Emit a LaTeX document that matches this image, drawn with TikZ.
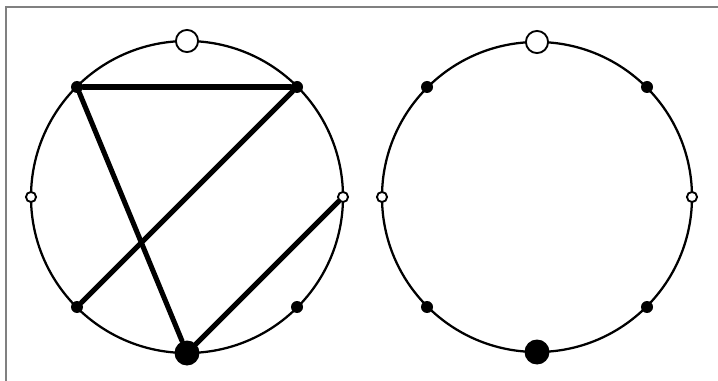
\documentclass[tikz,border=0pt]{standalone}
\usetikzlibrary{positioning}
\begin{document}
\begin{tikzpicture}[x=0.75pt, y=-0.75pt,
  ring/.style={line width=1.7pt},
  chord/.style={line width=3.8pt, line cap=round},
  dot/.style={circle, fill, inner sep=0pt, minimum size=9pt},
  bigdot/.style={dot, minimum size=18.75pt},
  hole/.style={circle, draw, fill=white, line width=1.4pt, inner sep=0pt, minimum size=7.6pt},
  bighole/.style={hole, minimum size=16.6pt}]
  \useasboundingbox (0,0) rectangle (718,381);
  \draw[gray, line width=0.8pt] (718,7) -- (6,7) -- (6,381);
  % left ring
  \draw[ring] (187,197) circle (117pt);
  \node[bighole] (a1) at (187,41) {};
  \node[dot] (a2) at (77,87) {};
  \node[dot] (a3) at (297,87) {};
  \node[hole] (a4) at (31,197) {};
  \node[hole] (a5) at (343,197) {};
  \node[dot] (a6) at (77,307) {};
  \node[dot] (a7) at (297,307) {};
  \node[bigdot] (a8) at (187,353) {};
  \draw[chord] (a2) -- (a3);
  \draw[chord] (a2) -- (a8);
  \draw[chord] (a3) -- (a6);
  \draw[chord] (a5) -- (a8);
  % right ring
  \draw[ring] (537,197) circle (116.25pt);
  \node[bighole] (b1) at (537,42) {};
  \node[dot] (b2) at (427,87) {};
  \node[dot] (b3) at (647,87) {};
  \node[hole] (b4) at (382,197) {};
  \node[hole] (b5) at (692,197) {};
  \node[dot] (b6) at (427,307) {};
  \node[dot] (b7) at (647,307) {};
  \node[bigdot] (b8) at (537,352) {};
\end{tikzpicture}
\end{document}
